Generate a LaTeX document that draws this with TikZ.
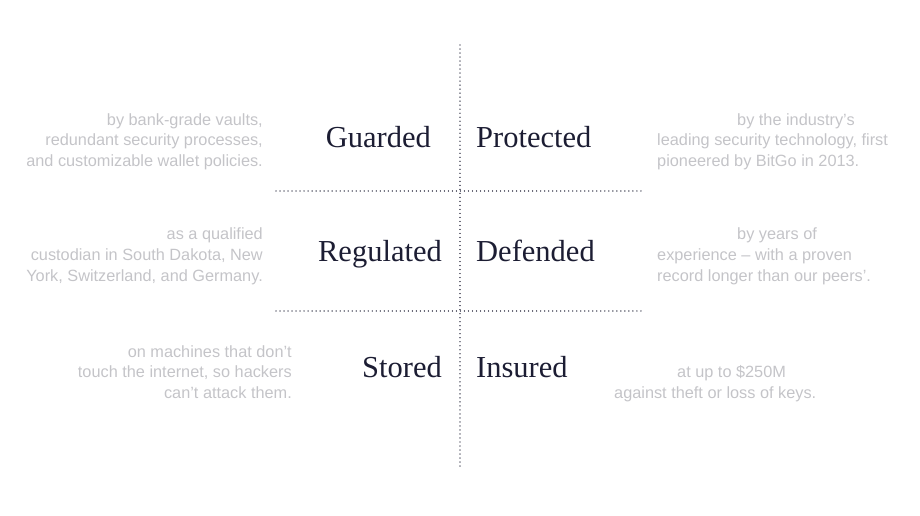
\documentclass[tikz,border=0pt]{standalone}
\usepackage{fontspec}
\setmainfont{Liberation Serif}
\newfontfamily\descfont{Liberation Sans}
\definecolor{headc}{HTML}{1C1D33}
\definecolor{descc}{HTML}{C4C4C8}
\definecolor{dotc}{HTML}{4A4B5C}
\begin{document}
\begin{tikzpicture}[x=1pt,y=-1pt,
  head/.style={font=\fontsize{30.5}{33}\selectfont, text=headc, inner sep=0pt},
  desc/.style={font=\descfont\fontsize{16.3}{18}\selectfont, text=descc, inner sep=0pt},
  dotline/.style={draw=dotc, line width=1.3pt, dash pattern=on 0.01pt off 4pt, line cap=round}]
\useasboundingbox (0,0) rectangle (920,516);
\draw[dotline] (460,45) -- (460,470);
\draw[dotline] (276,191) -- (644,191);
\draw[dotline] (276,311) -- (644,311);
% headings
\node[head, anchor=base east] (guarded) at (431,147) {Guarded};
\node[head, anchor=base west] (protected) at (476,147) {Protected};
\node[head, anchor=base east] (regulated) at (442,261) {Regulated};
\node[head, anchor=base west] (defended) at (476,261) {Defended};
\node[head, anchor=base east] (stored) at (442,377) {Stored};
\node[head, anchor=base west] (insured) at (476,377) {Insured};
% left descriptions
\node[desc, anchor=base east] (l11) at (263,125) {by bank-grade vaults,};
\node[desc, anchor=base east] (l12) at (263,145) {redundant security processes,};
\node[desc, anchor=base east] (l13) at (263,166) {and customizable wallet policies.};
\node[desc, anchor=base east] (l21) at (263,239) {as a qualified};
\node[desc, anchor=base east] (l22) at (263,260) {custodian in South Dakota, New};
\node[desc, anchor=base east] (l23) at (263,281) {York, Switzerland, and Germany.};
\node[desc, anchor=base east] (l31) at (292,357) {on machines that don’t};
\node[desc, anchor=base east] (l32) at (292,377) {touch the internet, so hackers};
\node[desc, anchor=base east] (l33) at (292,398) {can’t attack them.};
% right descriptions
\node[desc, anchor=base west] (r11) at (737,125) {by the industry’s};
\node[desc, anchor=base west] (r12) at (657,145) {leading security technology, first};
\node[desc, anchor=base west] (r13) at (657,166) {pioneered by BitGo in 2013.};
\node[desc, anchor=base west] (r21) at (737,239) {by years of};
\node[desc, anchor=base west] (r22) at (657,260) {experience – with a proven};
\node[desc, anchor=base west] (r23) at (657,281) {record longer than our peers’.};
\node[desc, anchor=base west] (r31) at (677,377) {at up to \$250M};
\node[desc, anchor=base west] (r32) at (614,398) {against theft or loss of keys.};
\end{tikzpicture}
\end{document}
